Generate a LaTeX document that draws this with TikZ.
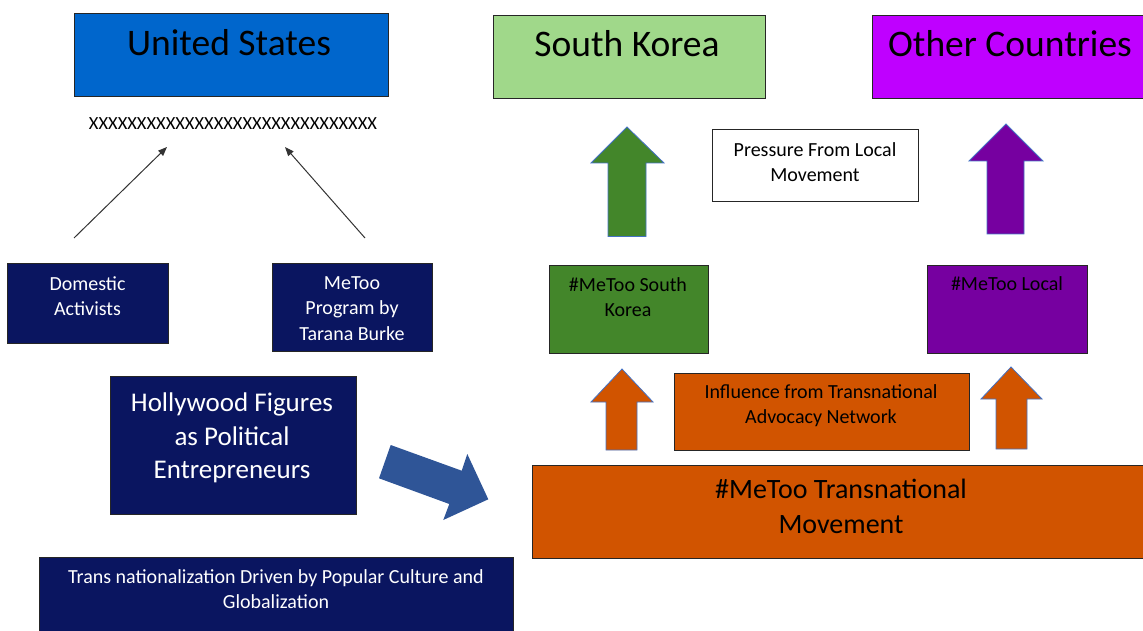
\documentclass[tikz,border=0pt]{standalone}
\usepackage{fontspec}
\setmainfont{Carlito}
\usetikzlibrary{arrows.meta}
\definecolor{usblue}{RGB}{0,102,204}
\definecolor{lgreen}{RGB}{160,216,138}
\definecolor{magentap}{RGB}{191,0,255}
\definecolor{navy}{RGB}{10,21,96}
\definecolor{dgreen}{RGB}{67,134,42}
\definecolor{dpurple}{RGB}{118,0,160}
\definecolor{orng}{RGB}{209,84,0}
\definecolor{bluearrow}{RGB}{47,85,151}
\definecolor{arrline}{RGB}{68,114,196}
\tikzset{
  box/.style={draw=black!85, line width=1pt, inner sep=0pt, anchor=north west},
  shapearrow/.style={draw=arrline, line width=0.8pt, line join=miter},
  title/.style={inner sep=0pt, anchor=base, font=\fontsize{37.5}{44}\selectfont},
  small/.style={inner sep=0pt, anchor=north, align=center, font=\fontsize{20}{25.5}\selectfont},
  large/.style={inner sep=0pt, anchor=north, align=center, font=\fontsize{27}{33.5}\selectfont},
  thinarrow/.style={draw=black!80, line width=1pt, -{Triangle[length=9pt,width=7pt]}},
}
\begin{document}
\begin{tikzpicture}[x=1pt,y=-1pt]
\useasboundingbox (0,0) rectangle (1143,631);
\clip (0,0) rectangle (1143,631);
% top country boxes
\node[box, fill=usblue, minimum width=314, minimum height=83] (us) at (74,13) {};
\node[title] (ust) at (229,56) {United States};
\node[box, fill=lgreen, minimum width=272, minimum height=83] (sk) at (493,15) {};
\node[title] (skt) at (627,57) {South Korea};
\node[box, fill=magentap, minimum width=285, minimum height=83] (oc) at (872,15) {};
\node[title] (oct) at (1010,57) {Other Countries};
% xxx line
\node[inner sep=0pt, font=\fontsize{18.5}{22}\selectfont] (xx) at (233,124) {XXXXXXXXXXXXXXXXXXXXXXXXXXXXXX};
% US side boxes
\node[box, fill=navy, minimum width=161, minimum height=80] (dom) at (7,263) {};
\node[small, text=white] (domt) at (87.5,276) {Domestic\\Activists};
\node[box, fill=navy, minimum width=160, minimum height=88] (mt) at (272,263) {};
\node[small, text=white] (mtt) at (352,276) {MeToo\\Program by\\Tarana Burke};
% thin arrows
\coordinate (a1s) at (74,238);
\coordinate (a1e) at (167,147);
\coordinate (a2s) at (365,238);
\coordinate (a2e) at (285,147);
\draw[thinarrow] (a1s) -- (a1e);
\draw[thinarrow] (a2s) -- (a2e);
% Hollywood
\node[box, fill=navy, minimum width=246, minimum height=138] (hw) at (110,376) {};
\node[large, text=white] (hwt) at (232,393) {Hollywood Figures\\as Political\\Entrepreneurs};
% blue diagonal arrow
\fill[bluearrow] (390.7,445) -- (461.7,470.7) -- (467.3,454) -- (488.3,499.3) -- (443.3,520) -- (449.3,504) -- (379,478.3) -- cycle;
% trans nationalization
\node[box, fill=navy, minimum width=474, minimum height=90] (tn) at (39,557) {};
\node[small, text=white] (tnt) at (276,569) {Trans nationalization Driven by Popular Culture and\\Globalization};
% pressure box
\node[box, fill=white, minimum width=206, minimum height=72] (pr) at (712,129) {};
\node[small] (prt) at (815,142) {Pressure From Local\\Movement};
% green and purple arrows
\draw[shapearrow, fill=dgreen] (627,127) -- (664,163) -- (646,163) -- (646,236.5) -- (608,236.5) -- (608,163) -- (591,163) -- cycle;
\draw[shapearrow, fill=dpurple] (1006,124) -- (1043,161) -- (1024,161) -- (1024,234) -- (987,234) -- (987,161) -- (969,161) -- cycle;
% local boxes
\node[box, fill=dgreen, minimum width=159, minimum height=88] (msk) at (549,265) {};
\node[small] (mskt) at (628,277) {\#MeToo South\\Korea};
\node[box, fill=dpurple, minimum width=160, minimum height=88] (ml) at (927,265) {};
\node[small] (mlt) at (1007,276) {\#MeToo Local};
% orange arrows
\draw[shapearrow, fill=orng] (622,369) -- (653,402) -- (637,402) -- (637,450) -- (606,450) -- (606,402) -- (591,402) -- cycle;
\draw[shapearrow, fill=orng] (1011,367) -- (1042,399) -- (1027,399) -- (1027,449) -- (996,449) -- (996,399) -- (981,399) -- cycle;
% influence box
\node[box, fill=orng, minimum width=295, minimum height=77] (inf) at (674,373) {};
\node[small] (inft) at (821,384) {Influence from Transnational\\Advocacy Network};
% transnational movement
\node[box, fill=orng, minimum width=630, minimum height=93] (tm) at (532,465) {};
\node[large, font=\fontsize{28}{35}\selectfont] (tmt) at (841,479) {\#MeToo Transnational\\Movement};
\end{tikzpicture}
\end{document}
